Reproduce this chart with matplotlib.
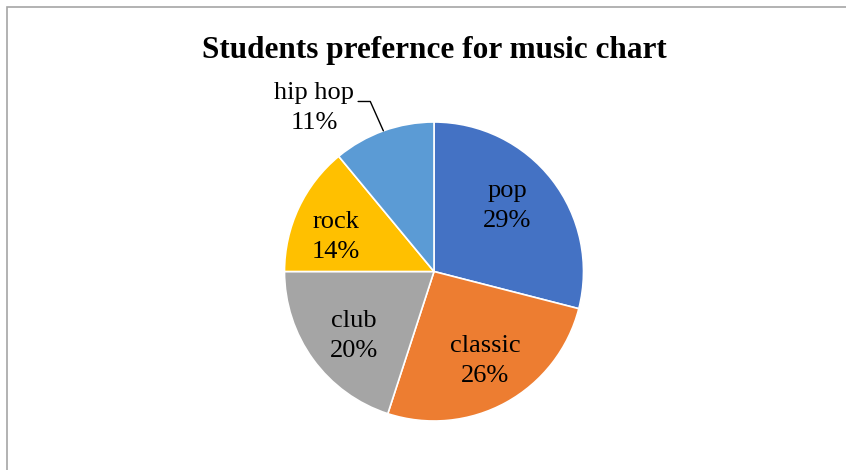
import numpy as np
import matplotlib
matplotlib.use("Agg")
import matplotlib.pyplot as plt
from matplotlib.patches import Rectangle

# music preference shares (percent)
genres = ['pop', 'classic', 'club', 'rock', 'hip hop']
shares = [29, 26, 20, 14, 11]
colors = ['#4472C4', '#ED7D31', '#A5A5A5', '#FFC000', '#5B9BD5']
title = 'Students prefernce for music chart'

plt.rcParams['font.family'] = ['Liberation Serif', 'DejaVu Serif']

W, H = 846, 470
cx, cy, R = 434, 271.5, 149.5   # pie centre / radius in pixels

# where Excel put the data labels (centre x, baseline of last line), pie units
label_pos = {'pop': (0.488, 0.298), 'classic': (0.341, -0.739),
             'club': (-0.535, -0.572), 'rock': (-0.656, 0.090),
             'hip hop': (-0.803, 0.953)}

fig = plt.figure(figsize=(W / 100, H / 100), dpi=100)
ax = fig.add_axes([0, 0, 1, 1])
wedges, _ = ax.pie(shares, colors=colors, startangle=90, counterclock=False,
                   wedgeprops=dict(edgecolor='white', linewidth=1.2))
ax.set_aspect('auto')
ax.set_xlim(-cx / R, (W - cx) / R)
ax.set_ylim(-(H - cy) / R, cy / R)
ax.axis('off')

# labels
for w, g, s in zip(wedges, genres, shares):
    txt = '%s\n%d%%' % (g, s)
    if g == 'hip hop':
        mid = np.deg2rad((w.theta1 + w.theta2) / 2)
        ax.annotate(txt, xy=(np.cos(mid), np.sin(mid)), xytext=label_pos[g],
                    ha='center', va='baseline', fontsize=19, linespacing=1.45,
                    arrowprops=dict(arrowstyle='-', color='black', lw=1,
                                    connectionstyle='angle,angleA=0,angleB=114,rad=0',
                                    shrinkA=1, shrinkB=0,
                                    relpos=(1.0, 0.63)))
    else:
        ax.text(*label_pos[g], txt, ha='center', va='baseline',
                fontsize=19, linespacing=1.45)

fig.text(cx / W, 1 - 58 / H, title, ha='center', va='baseline',
         fontsize=22.5, fontweight='bold')

# chart area border (runs off the right/bottom of the crop)
fig.patches.append(Rectangle((7 / W, -0.1), 1.2, 1.1 - 7 / H, transform=fig.transFigure,
                             fill=False, edgecolor='#A6A6A6', linewidth=1.2))

fig.savefig('out.png', dpi=100)
